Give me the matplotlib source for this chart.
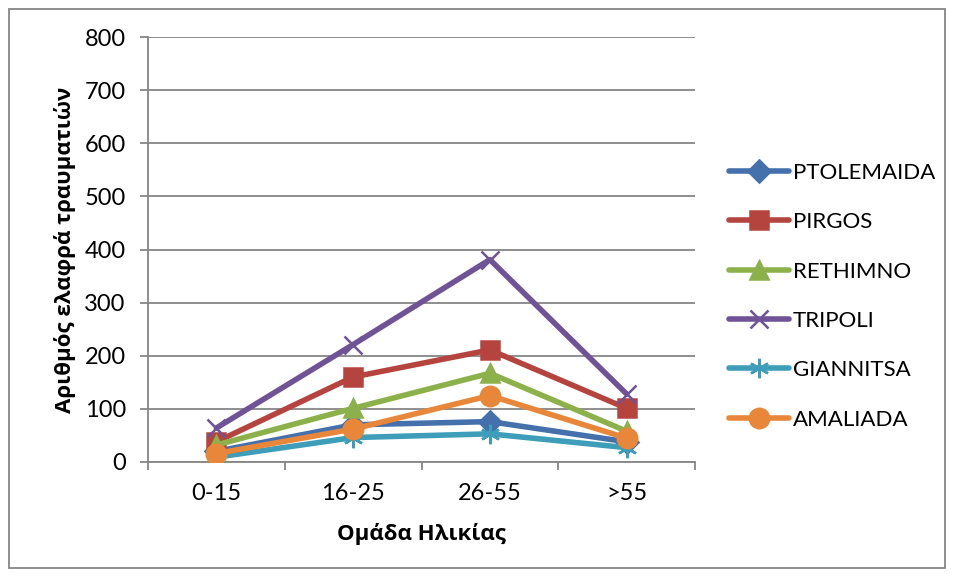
import matplotlib.pyplot as plt
import numpy as np

# Ηλικιακές ομάδες και αριθμός ελαφρά τραυματιών ανά πόλη
ομάδες = ['0-15', '16-25', '26-55', '>55']
ptolemaida = [20, 70, 76, 38]
pirgos = [38, 160, 211, 101]
rethimno = [32, 101, 167, 58]
tripoli = [64, 221, 381, 128]
giannitsa = [9, 46, 53, 27]
amaliada = [16, 62, 125, 45]

σειρές = [
    ('PTOLEMAIDA', ptolemaida, '#4470AC', 'D', 11),
    ('PIRGOS', pirgos, '#B5443F', 's', 13),
    ('RETHIMNO', rethimno, '#8DB14A', '^', 13),
    ('TRIPOLI', tripoli, '#6F5396', 'x', 13),
    ('GIANNITSA', giannitsa, '#3E9DB8', (6, 2, 0), 14),
    ('AMALIADA', amaliada, '#E8873A', 'o', 14),
]

plt.rcParams['font.family'] = ['Lato', 'DejaVu Sans']

fig = plt.figure(figsize=(9.55, 5.77), dpi=100)
ax = fig.add_axes([148 / 955, 1 - 462 / 577, 547 / 955, 425 / 577])

x = np.arange(len(ομάδες))
for όνομα, τιμές, χρώμα, σύμβολο, μέγεθος in σειρές:
    ax.plot(x, τιμές, color=χρώμα, lw=4, marker=σύμβολο, ms=μέγεθος,
            mew=1.8, mec=χρώμα, mfc=χρώμα, label=όνομα, solid_capstyle='round',
            zorder=3)

γκρι = '#868686'
ax.set_xlim(-0.5, 3.5)
ax.set_ylim(0, 800)
ax.set_yticks(range(0, 801, 100))
ax.set_xticks(x)
ax.set_xticklabels(ομάδες)
ax.set_xticks(np.arange(-0.5, 4, 1), minor=True)
ax.tick_params(axis='x', which='major', length=0, pad=15, labelsize=17)
ax.tick_params(axis='x', which='minor', length=6, color=γκρι, width=1.3)
ax.tick_params(axis='y', length=6, color=γκρι, width=1.3, labelsize=17, pad=10)
ax.grid(axis='y', color=γκρι, lw=1.3, zorder=0)
ax.set_axisbelow(True)
for s in ['top', 'right']:
    ax.spines[s].set_visible(False)
for s in ['left', 'bottom']:
    ax.spines[s].set_color(γκρι)
    ax.spines[s].set_linewidth(1.3)

τίτλοι = dict(fontsize=16, fontweight='bold', family=['Open Sans', 'DejaVu Sans'])
ax.set_xlabel('Ομάδα Ηλικίας', labelpad=14, **τίτλοι)
ax.set_ylabel('Αριθμός ελαφρά τραυματιών', labelpad=6, **τίτλοι)

ax.legend(loc='center left', bbox_to_anchor=(1.025, 0.39), frameon=False,
          fontsize=16, handlelength=2.7, labelspacing=1.32, handletextpad=0.2)

# Πλαίσιο γύρω από όλο το γράφημα
fig.patches.append(plt.Rectangle((9 / 955, 9 / 577), 936 / 955, 559 / 577,
                                 transform=fig.transFigure, fill=False,
                                 edgecolor=γκρι, lw=1.3))

fig.savefig('out.png', dpi=100)
